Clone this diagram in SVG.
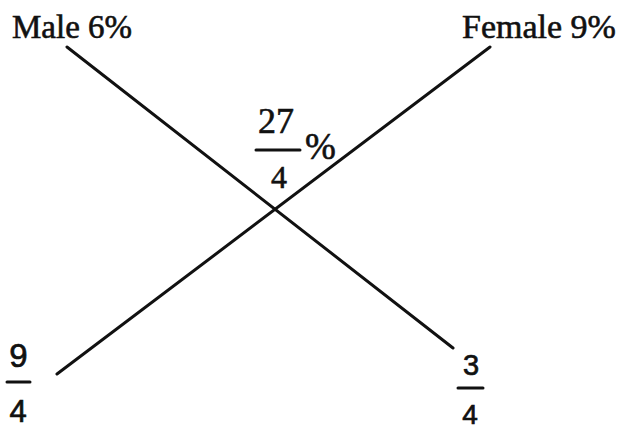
<svg xmlns="http://www.w3.org/2000/svg" width="620" height="430" viewBox="0 0 620 430">
<style>
.t{font-family:"Liberation Serif","Times New Roman",serif;fill:#111;stroke:#111;stroke-width:0.6;}
.s{font-family:"Liberation Sans",Arial,sans-serif;fill:#111;stroke:#111;stroke-width:0.7;}
.ln{stroke:#111;stroke-width:3;fill:none;stroke-linecap:round;}
</style>
<rect width="620" height="430" fill="#fff"/>
<g id="connectors">
<line class="ln" x1="67" y1="47" x2="453" y2="348"/>
<line class="ln" x1="490" y1="47" x2="57" y2="374"/>
</g>
<g id="male"><text class="t" x="12" y="38" font-size="33">Male 6%</text></g>
<g id="female"><text class="t" x="462" y="38" font-size="34">Female 9%</text></g>
<g id="center">
<text class="t" x="276" y="133" font-size="36" text-anchor="middle">27</text>
<line class="ln" x1="256" y1="150" x2="300" y2="150" stroke-width="2.5"/>
<text class="t" x="279" y="188" font-size="32" text-anchor="middle">4</text>
<text class="t" x="305" y="159" font-size="37">%</text>
</g>
<g id="left">
<text class="s" x="18.5" y="367" font-size="33" text-anchor="middle">9</text>
<line class="ln" x1="7" y1="382" x2="30" y2="382" stroke-width="2.5"/>
<text class="s" x="18" y="422" font-size="31" text-anchor="middle">4</text>
</g>
<g id="right">
<text class="s" x="471" y="375" font-size="29" text-anchor="middle">3</text>
<line class="ln" x1="458" y1="388" x2="483" y2="388" stroke-width="2.5"/>
<text class="s" x="470" y="424" font-size="28" text-anchor="middle">4</text>
</g>
</svg>
